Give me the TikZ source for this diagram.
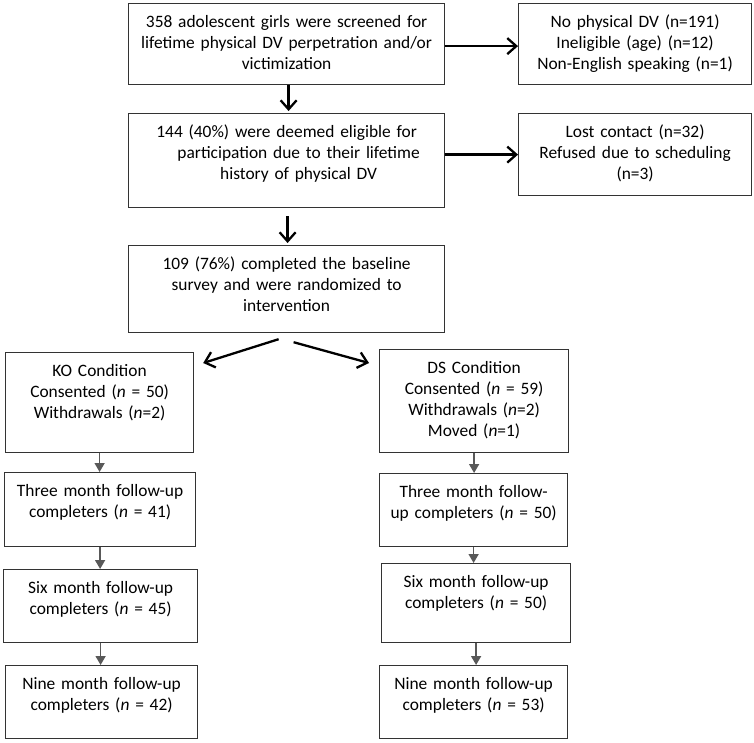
\documentclass[tikz,border=0pt]{standalone}
\usepackage{fontspec}
\setmainfont{Carlito}
\usetikzlibrary{arrows.meta}
\begin{document}
\begin{tikzpicture}[x=1pt, y=-1pt,
  box/.style 2 args = {draw=black!80, line width=1.2pt, anchor=north west, inner sep=0pt, align=center, text width=#1, text height=24pt, text depth=#2, font=\fontsize{17.4}{21}\selectfont},
  arr/.style = {line width=2.3pt, -{Straight Barb[length=9pt, width=16pt]}},
  garr/.style = {draw=black!65, line width=1.6pt, -{Triangle[length=9pt, width=10pt]}}]
\useasboundingbox (0,0) rectangle (754,742);

% top of the chart
\node[box={316pt}{57pt}] (screen) at (128,3) {358 adolescent girls were screened for\\lifetime physical DV perpetration and/or\\victimization};
\node[box={233pt}{57pt}] (excl) at (518,3) {No physical DV (n=191)\\Ineligible (age) (n=12)\\Non-English speaking (n=1)};
\node[box={316pt}{70pt}] (elig) at (128,113) {144 (40\%) were deemed eligible for\\\hspace*{24pt}participation due to their lifetime\\\hspace*{24pt}history of physical DV};
\node[box={233pt}{58pt}] (lost) at (518,113) {Lost contact (n=32)\\Refused due to scheduling\\(n=3)};
\node[box={316pt}{63pt}] (base) at (128,245) {109 (76\%) completed the baseline\\survey and were randomized to\\intervention};

% the two arms
\node[box={188pt}{76pt}] (ko) at (5,352) {KO Condition\\Consented (\textit{n} = 50)\\Withdrawals (\textit{n}=2)};
\node[box={189pt}{79pt}] (ds) at (379,349) {DS Condition\\Consented (\textit{n} = 59)\\Withdrawals (\textit{n}=2)\\Moved (\textit{n}=1)};
\node[box={191pt}{50pt}] (ko3) at (4,472) {Three month follow-up\\completers (\textit{n} = 41)};
\node[box={188pt}{49pt}] (ds3) at (379,473) {Three month follow-\\up completers (\textit{n} = 50)};
\node[box={194pt}{49pt}] (ko6) at (3,569) {Six month follow-up\\completers (\textit{n} = 45)};
\node[box={189pt}{55pt}] (ds6) at (381,563) {Six month follow-up\\completers (\textit{n} = 50)};
\node[box={192pt}{49pt}] (ko9) at (5,665) {Nine month follow-up\\completers (\textit{n} = 42)};
\node[box={188pt}{49pt}] (ds9) at (379,665) {Nine month follow-up\\completers (\textit{n} = 53)};

\draw[arr] ([xshift=2pt]screen.south) -- ([xshift=2pt, yshift=2pt]elig.north);
\draw[arr] ([xshift=1pt, yshift=-8pt]elig.south) -- ([xshift=1pt, yshift=2pt]base.north);
\draw[arr] ([yshift=-2pt]screen.east) -- ([yshift=-2pt]excl.west);
\draw[arr] (lost.west -| elig.east) -- (lost.west);
\draw[arr] ([xshift=-8pt, yshift=-6pt]base.south) -- ([xshift=9pt, yshift=-11pt]ko.north east);
\draw[arr] ([xshift=7pt, yshift=-9pt]base.south) -- ([xshift=-10pt, yshift=-14pt]ds.north west);

\draw[garr] (ko.south) -- (ko.south |- ko3.north);
\draw[garr] (ko3.south) -- (ko3.south |- ko6.north);
\draw[garr] (ko6.south) -- (ko6.south |- ko9.north);
\draw[garr] (ds.south) -- (ds.south |- ds3.north);
\draw[garr] (ds3.south) -- (ds3.south |- ds6.north);
\draw[garr] (ds6.south) -- (ds6.south |- ds9.north);
\end{tikzpicture}
\end{document}
